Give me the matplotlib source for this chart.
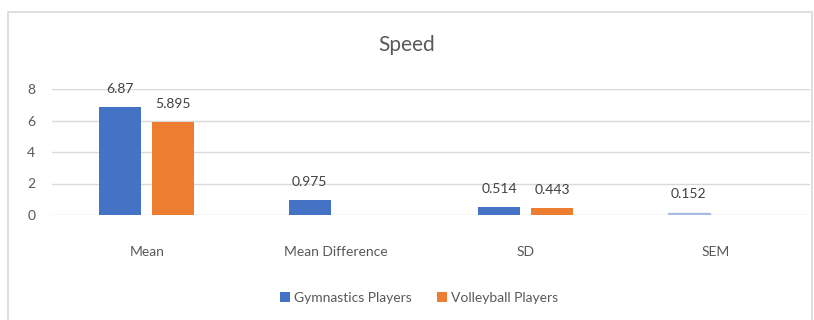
import matplotlib.pyplot as plt
import numpy as np
from matplotlib.patches import Rectangle

plt.rcParams['font.family'] = ['Lato', 'DejaVu Sans']

categories = ['Mean', 'Mean Difference', 'SD', 'SEM']
gym = [6.87, 0.975, 0.514, 0.152]
volley = [5.895, 0, 0.443, 0]
gym_labels = ['6.87', '0.975', '0.514', '0.152']
volley_labels = ['5.895', '', '0.443', '']

blue = '#4472C4'
orange = '#ED7D31'
grey = '#595959'

fig = plt.figure(figsize=(8.14, 3.2), dpi=100)
fig.patches.append(Rectangle((8 / 814, -0.05), 0.988, 1 - 12 / 320 + 0.05, transform=fig.transFigure,
                             fill=False, edgecolor='#d9d9d9', linewidth=1.2))
ax = fig.add_axes([52 / 814, 1 - 215 / 320, (810 - 52) / 814, (215 - 89) / 320])

ind = np.arange(len(categories))
width = 0.22
gap = 0.06
b1 = ax.bar(ind - width / 2 - gap / 2, gym, width, color=blue, label='Gymnastics Players')
b2 = ax.bar(ind + width / 2 + gap / 2, volley, width, color=orange, label='Volleyball Players')
b1[3].set_color('#A9BCE0')

for rects, labels in ((b1, gym_labels), (b2, volley_labels)):
    for rect, lab in zip(rects, labels):
        if lab:
            ax.text(rect.get_x() + rect.get_width() / 2, rect.get_height() + 1.15, lab,
                    ha='center', va='center', fontsize=10, color='#404040')

ax.set_ylim(0, 8)
ax.set_xlim(-0.5, 3.5)
ax.set_yticks([0, 2, 4, 6, 8])
ax.yaxis.grid(True, color='#d9d9d9', linewidth=1)
ax.set_axisbelow(True)
for s in ax.spines.values():
    s.set_visible(False)
ax.tick_params(length=0, colors=grey, labelsize=10)
ax.tick_params(axis='y', pad=12)
ax.tick_params(axis='x', pad=22)
ax.set_xticks(ind)
ax.set_xticklabels(categories)

fig.text(0.5, 1 - 45 / 320, 'Speed', ha='center', va='center', fontsize=15, color=grey)
fig.legend(loc='center', bbox_to_anchor=(0.515, 1 - 298 / 320), ncol=2, frameon=False,
           fontsize=10, labelcolor=grey, handlelength=0.7, handleheight=0.7,
           handletextpad=0.3, columnspacing=1.8)

fig.savefig('out.png', dpi=100)
